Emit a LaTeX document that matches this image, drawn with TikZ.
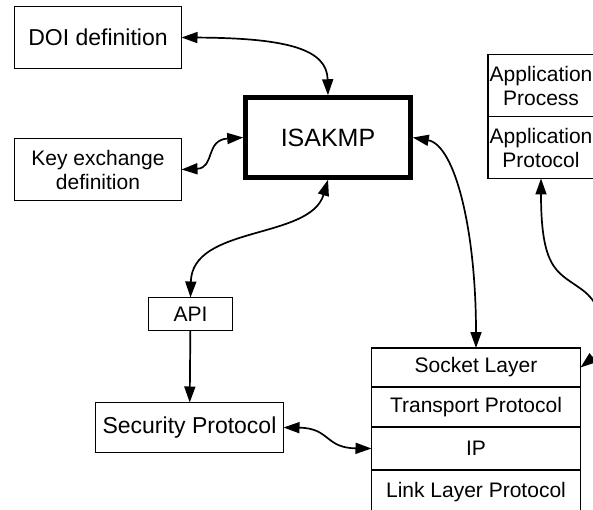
\documentclass[tikz,border=0pt]{standalone}
\usepackage{fontspec}
\setmainfont{Liberation Sans}
\usetikzlibrary{arrows.meta,positioning}
\tikzset{>={Triangle[length=16pt,width=11pt]}}

\begin{document}
\begin{tikzpicture}[x=1pt,y=-1pt,
    blk/.style={draw,line width=1.7pt,align=center,inner sep=0pt,outer sep=0pt,font=\fontsize{21}{24}\selectfont},
    link/.style={line width=1.7pt}]
      \useasboundingbox (0,0) rectangle (593,510);

      \node[blk,minimum width=167,minimum height=62,font=\fontsize{23}{26}\selectfont](doi) at (98,37.5) {DOI definition};
      \node[blk,minimum width=167,minimum height=62](keyx) at (98,169.5) {Key exchange\\definition};
      \node[blk,line width=4.5pt,outer sep=2.25pt,minimum width=165,minimum height=80,font=\fontsize{25}{28}\selectfont](isakmp) at (328,137.5) {ISAKMP};

      \node[blk,minimum width=84,minimum height=33](api) at (190.5,314) {API};
      \node[blk,minimum width=188,minimum height=50,font=\fontsize{23}{26}\selectfont](secp) at (189.5,427.5) {Security Protocol};

      \node[blk,minimum width=106,minimum height=62](appproc) at (541,85.5) {Application\\Process};
      \node[blk,minimum width=106,minimum height=62,below=0pt of appproc](appprot) {Application\\Protocol};

      \node[blk,minimum width=209,minimum height=39](socket) at (476,367.5) {Socket Layer};
      \node[blk,minimum width=209,minimum height=40,below=0pt of socket](transport) {Transport Protocol};
      \node[blk,minimum width=209,minimum height=43,below=0pt of transport](ip) {IP};
      \node[blk,minimum width=209,minimum height=44,below=0pt of ip](linkl) {Link Layer Protocol};

      \draw[link,<->] (doi.east) .. controls (290,38) and (327,50) .. (isakmp.north);
      \draw[link,<->] (keyx.east) .. controls (215,168) and (205,140) .. (isakmp.west);
      \draw[link,<->] (isakmp.south) .. controls (310,240) and (192,225) .. (api.north);
      \draw[link,->] (api) -- (secp);
      \draw[link,<->] (secp.east) .. controls (330,428) and (325,448) .. (ip.west);
      \draw[link,<->] (isakmp.east) .. controls (455,145) and (476,230) .. (socket.north);
      \draw[link,<->] (appprot.south) .. controls (541,275) and (560,272) .. (585,292)
        .. controls (612,315) and (600,352) .. (socket.east);
    \end{tikzpicture}
\end{document}
